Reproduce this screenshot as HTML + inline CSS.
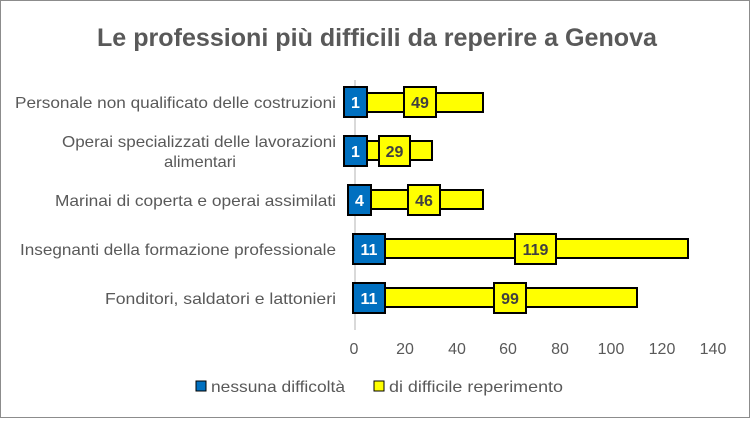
<!DOCTYPE html>
<html><head><style>
body{margin:0;width:750px;height:418px;overflow:hidden;background:#fff;font-family:"Liberation Sans",sans-serif}
</style></head><body>
<svg width="750" height="418" xmlns="http://www.w3.org/2000/svg" font-family="Liberation Sans, sans-serif">
<rect x="0.5" y="0.5" width="749" height="417" fill="#fff" stroke="#8c8c8c"/>
<text x="97" y="46" font-size="25" font-weight="bold" fill="#595959" textLength="560" lengthAdjust="spacingAndGlyphs">Le professioni più difficili da reperire a Genova</text>
<line x1="355" y1="80" x2="355" y2="330" stroke="#d9d9d9" stroke-width="2"/>
<g fill="#595959" font-size="16" lengthAdjust="spacingAndGlyphs">
<text x="15" y="108" textLength="321" lengthAdjust="spacingAndGlyphs">Personale non qualificato delle costruzioni</text>
<text x="62" y="147" textLength="274" lengthAdjust="spacingAndGlyphs">Operai specializzati delle lavorazioni</text>
<text x="164" y="167" textLength="72" lengthAdjust="spacingAndGlyphs">alimentari</text>
<text x="55" y="206" textLength="281" lengthAdjust="spacingAndGlyphs">Marinai di coperta e operai assimilati</text>
<text x="20" y="255" textLength="316" lengthAdjust="spacingAndGlyphs">Insegnanti della formazione professionale</text>
<text x="105" y="304" textLength="231" lengthAdjust="spacingAndGlyphs">Fonditori, saldatori e lattonieri</text>
</g>
<g stroke="#000" stroke-width="2">
<rect x="367" y="93" width="116" height="19" fill="#ffff00"/>
<rect x="367" y="141" width="65" height="19" fill="#ffff00"/>
<rect x="371" y="190" width="112" height="19" fill="#ffff00"/>
<rect x="385" y="239" width="303" height="19" fill="#ffff00"/>
<rect x="385" y="288" width="252" height="19" fill="#ffff00"/>
<rect x="344" y="87" width="23" height="30" fill="#0070c0"/>
<rect x="344" y="136" width="23" height="30" fill="#0070c0"/>
<rect x="348" y="185" width="23" height="30" fill="#0070c0"/>
<rect x="353" y="234" width="32" height="30" fill="#0070c0"/>
<rect x="353" y="283" width="32" height="30" fill="#0070c0"/>
<rect x="404" y="87" width="32" height="30" fill="#ffff00"/>
<rect x="379" y="136" width="31" height="30" fill="#ffff00"/>
<rect x="408" y="185" width="32" height="30" fill="#ffff00"/>
<rect x="515" y="234" width="41" height="30" fill="#ffff00"/>
<rect x="494" y="283" width="32" height="30" fill="#ffff00"/>
</g>
<g font-size="16" font-weight="bold" text-anchor="middle">
<g fill="#fff">
<text x="355.5" y="108">1</text><text x="355.5" y="157">1</text><text x="359.5" y="206">4</text>
<text x="369" y="255">11</text><text x="369" y="304">11</text>
</g>
<g fill="#404040">
<text x="420" y="108">49</text><text x="394.5" y="157">29</text><text x="424" y="206">46</text>
<text x="535.5" y="255">119</text><text x="510" y="304">99</text>
</g>
</g>
<g fill="#595959" font-size="16" text-anchor="middle">
<text x="354" y="354">0</text><text x="405" y="354">20</text><text x="457" y="354">40</text>
<text x="508" y="354">60</text><text x="560" y="354">80</text><text x="611" y="354">100</text>
<text x="662" y="354">120</text><text x="713" y="354">140</text>
</g>
<rect x="196" y="381" width="10" height="10" fill="#0070c0" stroke="#000"/>
<text x="211" y="392" font-size="16" fill="#595959" textLength="134" lengthAdjust="spacingAndGlyphs">nessuna difficoltà</text>
<rect x="374" y="381" width="10" height="10" fill="#ffff00" stroke="#000"/>
<text x="389" y="392" font-size="16" fill="#595959" textLength="174" lengthAdjust="spacingAndGlyphs">di difficile reperimento</text>
</svg>
</body></html>
